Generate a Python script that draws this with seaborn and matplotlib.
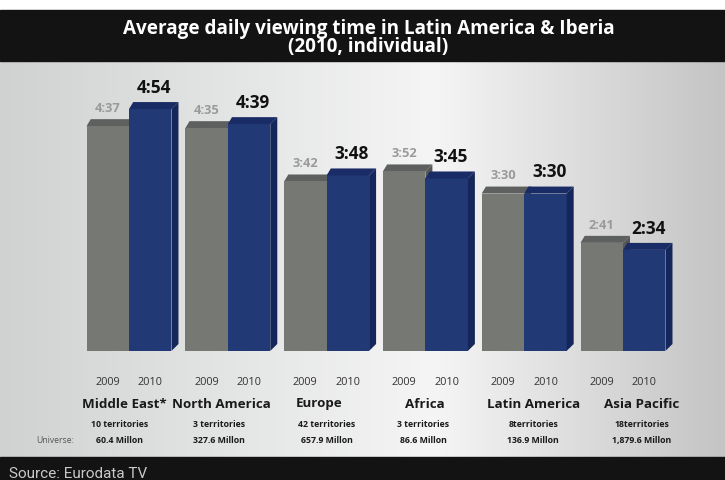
import numpy as np
import pandas as pd
import matplotlib
matplotlib.use("Agg")
import matplotlib.pyplot as plt
from matplotlib.patches import Polygon, Rectangle
from matplotlib.transforms import blended_transform_factory
import seaborn as sns

# ---------------- data ----------------
regions = ["Middle East*", "North America", "Europe", "Africa", "Latin America", "Asia Pacific"]
years = ["2009", "2010"]
labels_2009 = ["4:37", "4:35", "3:42", "3:52", "3:30", "2:41"]
labels_2010 = ["4:54", "4:39", "3:48", "3:45", "3:30", "2:34"]
territories = ["10 territories", "3 territories", "42 territories", "3 territories", "8territories", "18territories"]
universe = ["60.4 Millon", "327.6 Millon", "657.9 Millon", "86.6 Millon", "136.9 Millon", "1,879.6 Millon"]
title = "Average daily viewing time in Latin America & Iberia\n(2010, individual)"
source = "Source: Eurodata TV"


def to_min(s):
    h, m = s.split(":")
    return int(h) * 60 + int(m)


minutes_2009 = [to_min(s) for s in labels_2009]
minutes_2010 = [to_min(s) for s in labels_2010]

df = pd.DataFrame({
    "region": regions * 2,
    "year": ["2009"] * len(regions) + ["2010"] * len(regions),
    "minutes": minutes_2009 + minutes_2010,
    "label": labels_2009 + labels_2010,
})

# ---------------- styling / layout ----------------
W, H = 725, 481
GRAY = "#767874"
BLUE = "#213a76"
GRAY_TOP = "#5d605e"
GRAY_SIDE = "#555856"
BLUE_TOP = "#1a2c66"
BLUE_SIDE = "#15275a"
name_dx = [-5, -6, -7, -1, 9, 19]      # px shifts of the region captions
sub_dx = [-9, -9, 0, -2, 9, 19]        # px shifts of the sub captions

sns.set_theme(style="white")
plt.rcParams["font.family"] = ["Open Sans", "DejaVu Sans"]

fig = plt.figure(figsize=(W / 100, H / 100), dpi=100)
fig.patch.set_facecolor("white")

# background axes in pixel coordinates
bg = fig.add_axes([0, 0, 1, 1])
bg.set_xlim(0, W)
bg.set_ylim(H, 0)
bg.axis("off")
xs = np.linspace(0, 1, 400)
left_c = np.array([208, 210, 210]) / 255
mid_c = np.array([245, 245, 245]) / 255
right_c = np.array([196, 196, 196]) / 255
grad = np.zeros((2, len(xs), 3))
for j, t in enumerate(xs):
    if t < 0.6:
        c = left_c + (mid_c - left_c) * (t / 0.6)
    else:
        c = mid_c + (right_c - mid_c) * ((t - 0.6) / 0.4)
    grad[:, j, :] = c
bg.imshow(grad, extent=(0, W, 458, 62), aspect="auto", zorder=0)
bg.add_patch(Rectangle((0, 11), W, 51, color="#131313", zorder=1))
bg.add_patch(Rectangle((0, 458), W, 23, color="#131313", zorder=1))
bg.text(W / 2 + 6, 38, title, color="white", fontsize=13.6, fontweight="bold",
        ha="center", va="center", linespacing=0.82, zorder=2)
bg.text(9, 467, source, color="#c9c9c9", fontsize=11,
        family=["Liberation Sans Narrow", "Roboto", "DejaVu Sans"],
        ha="left", va="top", zorder=2)

# main bar axes
base_px, top_px = 352, 62
ax = fig.add_axes([0, 1 - base_px / H, 1, (base_px - top_px) / H])
ax.patch.set_alpha(0)
sns.barplot(data=df, x="region", y="minutes", hue="year", order=regions,
            hue_order=years, palette=[GRAY, BLUE], width=0.86, saturation=1,
            legend=False, ax=ax, errorbar=None, linewidth=0)
step = 98.8
ax.set_xlim(-129 / step, (W - 129) / step)
ymin = 53.5
ax.set_ylim(ymin, ymin + (base_px - top_px) / 1.006)
ax.axis("off")

# 3-D depth faces
fig.canvas.draw()
inv = ax.transData.inverted()
p0 = inv.transform(ax.transData.transform((0, ymin)))
p1 = inv.transform(ax.transData.transform((0, ymin)) + np.array([7, 7]))
ddx, ddy = p1 - p0

for k, cont in enumerate(ax.containers):
    top_c = GRAY_TOP if k == 0 else BLUE_TOP
    side_c = GRAY_SIDE if k == 0 else BLUE_SIDE
    zf = 2 if k == 0 else 4
    for bar in cont:
        x, w, h = bar.get_x(), bar.get_width(), bar.get_height()
        bar.set_zorder(zf + 1 if k == 0 else zf)
        ax.add_patch(Polygon([(x, h), (x + ddx * 0.6, h + ddy), (x + w + ddx, h + ddy), (x + w, h)],
                             closed=True, color=top_c, zorder=zf, lw=0))
        ax.add_patch(Polygon([(x + w, ymin + 0.1), (x + w, h), (x + w + ddx, h + ddy),
                              (x + w + ddx, ymin + ddy)],
                             closed=True, color=side_c, zorder=zf - 0.5 if k == 0 else zf, lw=0))

# value labels
for k, cont in enumerate(ax.containers):
    labs = labels_2009 if k == 0 else labels_2010
    for bar, lab in zip(cont, labs):
        cx = bar.get_x() + bar.get_width() / 2
        h = bar.get_height()
        if k == 0:
            ax.annotate(lab, (cx, h), xytext=(0, 13.5), textcoords="offset points",
                        ha="center", va="center", fontsize=9.3, fontweight="bold",
                        color="#9a9a9a", zorder=6)
        else:
            ax.annotate(lab, (cx, h), xytext=(3, 16), textcoords="offset points",
                        ha="center", va="center", fontsize=12.4, fontweight="bold",
                        color="#111111", zorder=6)

# captions below bars
tr = blended_transform_factory(ax.transData, fig.transFigure)
for k, cont in enumerate(ax.containers):
    for bar in cont:
        cx = bar.get_x() + bar.get_width() / 2
        ax.text(cx, 1 - 383 / H, years[k], transform=tr, ha="center", va="center",
                fontsize=7.8, color="#333333", clip_on=False)
for i, reg in enumerate(regions):
    ax.text(i + name_dx[i] / step, 1 - 404 / H, reg, transform=tr, ha="center", va="center",
            fontsize=9.6, fontweight="bold", color="#1a1a1a", clip_on=False)
    ax.text(i + sub_dx[i] / step, 1 - 425 / H, territories[i], transform=tr, ha="center",
            va="center", fontsize=6.3, fontweight="bold", color="#1a1a1a", clip_on=False)
    ax.text(i + sub_dx[i] / step, 1 - 441 / H, universe[i], transform=tr, ha="center",
            va="center", fontsize=6.3, fontweight="bold", color="#1a1a1a", clip_on=False)
ax.text(-0.75, 1 - 441 / H, "Universe:", transform=tr, ha="center", va="center",
        fontsize=6.2, color="#555555", clip_on=False)

fig.savefig("out.png", dpi=100, facecolor=fig.get_facecolor())
